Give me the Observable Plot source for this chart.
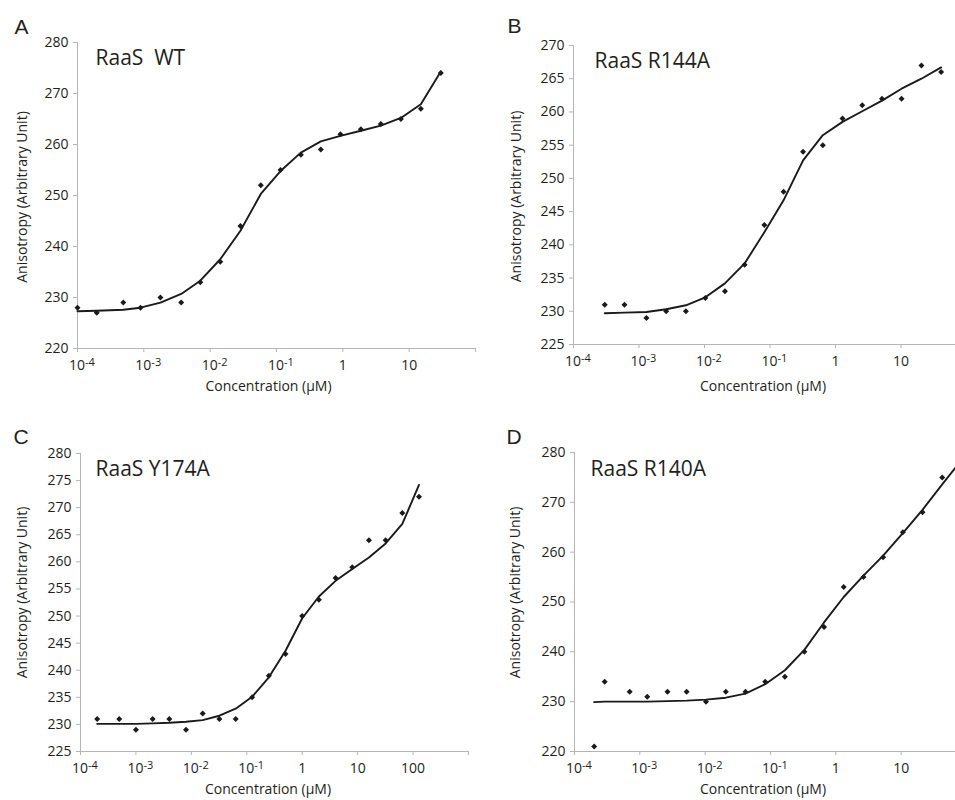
<!DOCTYPE html>
<html><head><meta charset="utf-8">
<script src="https://cdn.jsdelivr.net/npm/d3@7"></script>
<script src="https://cdn.jsdelivr.net/npm/@observablehq/plot@0.6"></script>
<style>
html,body{margin:0;padding:0;background:#fff;overflow:hidden;}
#fig{position:relative;width:955px;height:800px;overflow:hidden;background:#fff;}
.panel{position:absolute;}
.panel svg{max-width:none !important;}
</style></head><body><div id="fig"></div>
<script>
// ---------- Panel A: RaaS WT ----------
const concA  = [0.0001, 0.000195, 0.00049, 0.00089, 0.00178, 0.00366, 0.0071, 0.0142, 0.0286, 0.058, 0.115, 0.233, 0.466, 0.92, 1.87, 3.74, 7.5, 15, 30];
const anisoA = [228, 227, 229, 228, 230, 229, 233, 237, 244, 252, 255, 258, 259, 262, 263, 264, 265, 267, 274];
const fitConcA = concA;
const fitA   = [227.3, 227.4, 227.6, 228.0, 229.0, 230.7, 233.3, 237.5, 243.1, 250.3, 254.8, 258.4, 260.6, 261.7, 262.7, 263.7, 265.2, 267.9, 274.3];

// ---------- Panel B: RaaS R144A ----------
const concB  = [0.0003, 0.0006, 0.0013, 0.0026, 0.0052, 0.0103, 0.0205, 0.041, 0.082, 0.161, 0.32, 0.64, 1.28, 2.56, 5.13, 10.2, 20.5, 41];
const anisoB = [231, 231, 229, 230, 230, 232, 233, 237, 243, 248, 254, 255, 259, 261, 262, 262, 267, 266];
const fitConcB = concB;
const fitB   = [229.7, 229.8, 229.9, 230.3, 230.9, 232.1, 234.2, 237.2, 241.9, 246.7, 252.7, 256.5, 258.5, 260.1, 261.7, 263.5, 265.0, 266.7];

// ---------- Panel C: RaaS Y174A ----------
const concC  = [0.0002, 0.0005, 0.001, 0.002, 0.004, 0.008, 0.016, 0.032, 0.063, 0.125, 0.25, 0.5, 1, 2, 4, 8, 16, 32, 64, 128];
const anisoC = [231, 231, 229, 231, 231, 229, 232, 231, 231, 235, 239, 243, 250, 253, 257, 259, 264, 264, 269, 272];
const fitConcC = concC;
const fitC   = [230.1, 230.1, 230.1, 230.2, 230.3, 230.5, 230.8, 231.6, 232.9, 235.1, 238.7, 243.6, 249.6, 253.6, 256.5, 258.7, 260.8, 263.4, 267.0, 274.2];

// ---------- Panel D: RaaS R140A ----------
const concD  = [0.0002, 0.00029, 0.0007, 0.0013, 0.00265, 0.0052, 0.0103, 0.0207, 0.0414, 0.083, 0.166, 0.33, 0.66, 1.32, 2.65, 5.3, 10.6, 21.2, 42.5];
const anisoD = [221, 234, 232, 231, 232, 232, 230, 232, 232, 234, 235, 240, 245, 253, 255, 259, 264, 268, 275];
const fitConcD = [0.0002, 0.00029, 0.0007, 0.0013, 0.00265, 0.0052, 0.0103, 0.0207, 0.0414, 0.083, 0.166, 0.33, 0.66, 1.32, 2.65, 5.3, 10.6, 21.2, 42.5, 85];
const fitD   = [229.9, 230.0, 230.0, 230.0, 230.1, 230.2, 230.4, 230.8, 231.6, 233.5, 236.3, 240.4, 245.9, 251.0, 255.3, 259.3, 263.8, 268.5, 273.6, 278.6];

// ---------- Axis ticks / labels ----------
const xTicks6 = [1e-4, 1e-3, 1e-2, 1e-1, 1, 10, 100];
const xLabels6 = ["10^-4", "10^-3", "10^-2", "10^-1", "1", "10", ""];
const xTicks7 = [1e-4, 1e-3, 1e-2, 1e-1, 1, 10, 100, 1000];
const xLabels7 = ["10^-4", "10^-3", "10^-2", "10^-1", "1", "10", "100", ""];
const yTicksA = [220, 230, 240, 250, 260, 270, 280];
const yTicksB = [225, 230, 235, 240, 245, 250, 255, 260, 265, 270];
const yTicksC = [225, 230, 235, 240, 245, 250, 255, 260, 265, 270, 275, 280];
const yTicksD = [220, 230, 240, 250, 260, 270, 280];

const letters = ["A", "B", "C", "D"];
const titles = ["RaaS  WT", "RaaS R144A", "RaaS Y174A", "RaaS R140A"];
const yTitle = "Anisotropy (Arbitrary Unit)";
const xTitle = "Concentration (\u00B5M)";

const AXIS = "#b5b5b5", INK = "#231f20";
const FONT = "'Open Sans', 'Noto Sans', sans-serif";

function panel(cfg) {
  const pts = cfg.conc.map((c, i) => ({c, v: cfg.aniso[i]}));
  const fit = cfg.fitConc.map((c, i) => ({c, v: cfg.fit[i]}));
  const m = cfg.m;
  const chart = Plot.plot({
    width: cfg.width, height: cfg.height,
    marginTop: m[0], marginRight: m[1], marginBottom: m[2], marginLeft: m[3],
    style: {fontFamily: FONT, fontSize: "14px", color: INK, background: "transparent", overflow: "visible", maxWidth: "none"},
    x: {type: "log", domain: cfg.xDomain, axis: null},
    y: {domain: cfg.yDomain, axis: null},
    marks: [
      Plot.ruleX([cfg.xDomain[0]], {stroke: AXIS, strokeWidth: 1}),
      Plot.ruleY([cfg.yDomain[0]], {stroke: AXIS, strokeWidth: 1}),
      Plot.axisY(cfg.yTicks, {tickSize: 4, tickPadding: 5, stroke: AXIS, fill: INK, fontSize: 14, label: null, tickFormat: d => String(d)}),
      Plot.axisX(cfg.xTicks, {tickSize: 4, tickPadding: 8, stroke: AXIS, fill: INK, fontSize: 14, label: null,
        tickFormat: d => cfg.xLabels[cfg.xTicks.indexOf(d)]}),
      Plot.line(fit, {x: "c", y: "v", stroke: "#1a1a1a", strokeWidth: 1.9}),
      Plot.dot(pts, {x: "c", y: "v", symbol: "diamond2", r: 2.7, fill: "#1a1a1a", stroke: "none"}),
      Plot.text([cfg.letter], {text: d => d, frameAnchor: "top-left", textAnchor: "start", lineAnchor: "middle",
        dx: cfg.letterPos[0], dy: cfg.letterPos[1],
        fontSize: 21, fontFamily: "'Liberation Sans', Arial, sans-serif", fill: INK}),
      Plot.text([cfg.title], {text: d => d, frameAnchor: "top-left", textAnchor: "start", lineAnchor: "middle",
        dx: cfg.titlePos[0], dy: cfg.titlePos[1], fontSize: 21, fill: INK}),
      Plot.text([yTitle], {text: d => d, frameAnchor: "left", rotate: -90, textAnchor: "middle", lineAnchor: "middle",
        dx: cfg.yTitlePos[0], dy: cfg.yTitlePos[1], fontSize: 14, fill: INK}),
      Plot.text([xTitle], {text: d => d, frameAnchor: "bottom", textAnchor: "middle", lineAnchor: "middle",
        dx: cfg.xTitlePos[0], dy: cfg.xTitlePos[1], fontSize: 14, fill: INK})
    ]
  });
  chart.style.maxWidth = "none";
  chart.setAttribute("width", cfg.width);
  chart.setAttribute("height", cfg.height);
  // superscript exponents on the decade tick labels
  chart.querySelectorAll("text").forEach(t => {
    const mm = t.textContent.match(/^10\^(-?\d+)$/);
    if (mm) {
      t.textContent = "10";
      t.setAttribute("text-anchor", "start");
      t.setAttribute("dx", "-8.5");
      const ts = document.createElementNS("http://www.w3.org/2000/svg", "tspan");
      ts.setAttribute("dy", "-4.5");
      ts.setAttribute("font-size", "11");
      ts.textContent = mm[1];
      t.appendChild(ts);
    }
  });
  const div = document.createElement("div");
  div.className = "panel";
  div.style.left = cfg.left + "px";
  div.style.top = cfg.top + "px";
  div.style.width = cfg.width + "px";
  div.style.height = cfg.height + "px";
  div.appendChild(chart);
  document.getElementById("fig").appendChild(div);
}

panel({left: 0, top: 0, width: 480, height: 400, m: [42, 5, 52, 77],
  conc: concA, aniso: anisoA, fitConc: fitConcA, fit: fitA,
  xDomain: [1e-4, 100], yDomain: [220, 280], xTicks: xTicks6, xLabels: xLabels6, yTicks: yTicksA,
  letter: letters[0], title: titles[0],
  letterPos: [-63, -15.7], titlePos: [18, 15.3], yTitlePos: [-55.3, 1.5], xTitlePos: [-8, 38.5]});

panel({left: 480, top: 0, width: 490, height: 400, m: [45, 4, 56, 93],
  conc: concB, aniso: anisoB, fitConc: fitConcB, fit: fitB,
  xDomain: [1e-4, 100], yDomain: [225, 270], xTicks: xTicks6, xLabels: xLabels6, yTicks: yTicksB,
  letter: letters[1], title: titles[1],
  letterPos: [-66, -19.7], titlePos: [21, 15.3], yTitlePos: [-56.5, 1.5], xTitlePos: [-7, 42.5]});

panel({left: 0, top: 400, width: 480, height: 400, m: [53, 12, 49, 80],
  conc: concC, aniso: anisoC, fitConc: fitConcC, fit: fitC,
  xDomain: [1e-4, 1000], yDomain: [225, 280], xTicks: xTicks7, xLabels: xLabels7, yTicks: yTicksC,
  letter: letters[2], title: titles[2],
  letterPos: [-67, -16.7], titlePos: [15, 15.3], yTitlePos: [-58.3, -10], xTitlePos: [-6.5, 38.5]});

panel({left: 480, top: 400, width: 490, height: 400, m: [52, 4, 49, 94],
  conc: concD, aniso: anisoD, fitConc: fitConcD, fit: fitD,
  xDomain: [1e-4, 100], yDomain: [220, 280], xTicks: xTicks6, xLabels: xLabels6, yTicks: yTicksD,
  letter: letters[3], title: titles[3],
  letterPos: [-68, -15.7], titlePos: [16, 16.3], yTitlePos: [-59, -9.5], xTitlePos: [-7.5, 38.5]});
</script>
</body></html>
